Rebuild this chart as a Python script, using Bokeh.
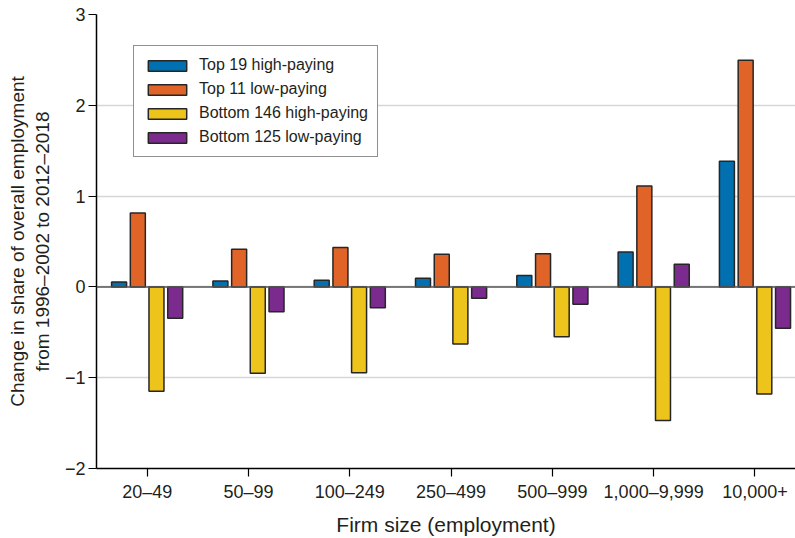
from bokeh.plotting import figure
from bokeh.models import ColumnDataSource, FixedTicker, Span, Legend
from bokeh.transform import dodge
from bokeh.embed import file_html
from bokeh.resources import INLINE

categories = ["20–49", "50–99", "100–249", "250–499", "500–999", "1,000–9,999", "10,000+"]
top19_high = [0.055, 0.065, 0.073, 0.095, 0.125, 0.385, 1.385]
top11_low = [0.815, 0.415, 0.435, 0.36, 0.365, 1.11, 2.495]
bottom146_high = [-1.15, -0.95, -0.945, -0.63, -0.55, -1.47, -1.18]
bottom125_low = [-0.345, -0.275, -0.23, -0.125, -0.19, 0.25, -0.455]
series_names = ["Top 19 high-paying", "Top 11 low-paying", "Bottom 146 high-paying", "Bottom 125 low-paying"]
y_ticks = [-2, -1, 0, 1, 2, 3]

colors = ["#0070b0", "#e06428", "#ecc41c", "#7b2a8e"]
FONT = "Liberation Sans"
TXT = "#231f20"

src = ColumnDataSource(dict(
    x=list(range(len(categories))),
    s0=top19_high, s1=top11_low, s2=bottom146_high, s3=bottom125_low,
))

p = figure(width=795, height=538, output_backend="svg", toolbar_location=None,
           x_range=(-0.5, 6.4), y_range=(-2, 3),
           min_border_left=96, min_border_right=0, min_border_top=14, min_border_bottom=70)
p.outline_line_color = None
p.background_fill_color = "white"
p.border_fill_color = "white"

offsets = [-0.277, -0.092, 0.092, 0.277]
renderers = []
for i, (col, off) in enumerate(zip(["s0", "s1", "s2", "s3"], offsets)):
    r = p.vbar(x=dodge("x", off), top=col, bottom=0, width=0.148, source=src,
               fill_color=colors[i], line_color="#262626", line_width=1.5)
    renderers.append(r)

# grid
p.xgrid.grid_line_color = None
p.ygrid.grid_line_color = "#d6d6d6"
p.ygrid.grid_line_width = 1.5
p.ygrid.ticker = FixedTicker(ticks=y_ticks)

zero = Span(location=0, dimension="width", line_color="#555555", line_width=1.5)
p.add_layout(zero)

# axes
p.xaxis.ticker = FixedTicker(ticks=list(range(len(categories))))
p.xaxis.major_label_overrides = {i: c for i, c in enumerate(categories)}
p.yaxis.ticker = FixedTicker(ticks=y_ticks)
p.yaxis.major_label_overrides = {t: (str(t).replace("-", "−")) for t in y_ticks}

for ax in (p.xaxis[0], p.yaxis[0]):
    ax.axis_line_color = "black"
    ax.axis_line_width = 1.5
    ax.major_tick_line_color = "black"
    ax.major_tick_line_width = 1.2
    ax.major_tick_out = 8
    ax.major_tick_in = 0
    ax.minor_tick_line_color = None
    ax.major_label_text_font = FONT
    ax.major_label_text_font_size = "18px"
    ax.major_label_text_color = TXT
    ax.axis_label_text_font = FONT
    ax.axis_label_text_font_style = "normal"
    ax.axis_label_text_color = TXT

p.xaxis.axis_label = "Firm size (employment)"
p.xaxis.axis_label_text_font_size = "21px"
p.xaxis.major_label_standoff = 5
p.xaxis.axis_label_standoff = 8
p.yaxis.axis_label = "Change in share of overall employment\nfrom 1996–2002 to 2012–2018"
p.yaxis.axis_label_text_font_size = "19px"
p.yaxis.major_label_standoff = 3
p.yaxis.axis_label_standoff = 9

legend = Legend(items=[(n, [r]) for n, r in zip(series_names, renderers)],
                location=(37, 311))
legend.margin = 0
legend.padding = 9
legend.spacing = 4
legend.glyph_width = 48
legend.glyph_height = 13
legend.label_height = 20
legend.label_standoff = 8
legend.label_text_font = FONT
legend.label_text_font_size = "16px"
legend.label_text_color = TXT
legend.border_line_color = "#222222"
legend.border_line_width = 1.2
legend.background_fill_alpha = 1.0
p.add_layout(legend, "center")

open("out.html", "w").write(file_html(p, INLINE))
